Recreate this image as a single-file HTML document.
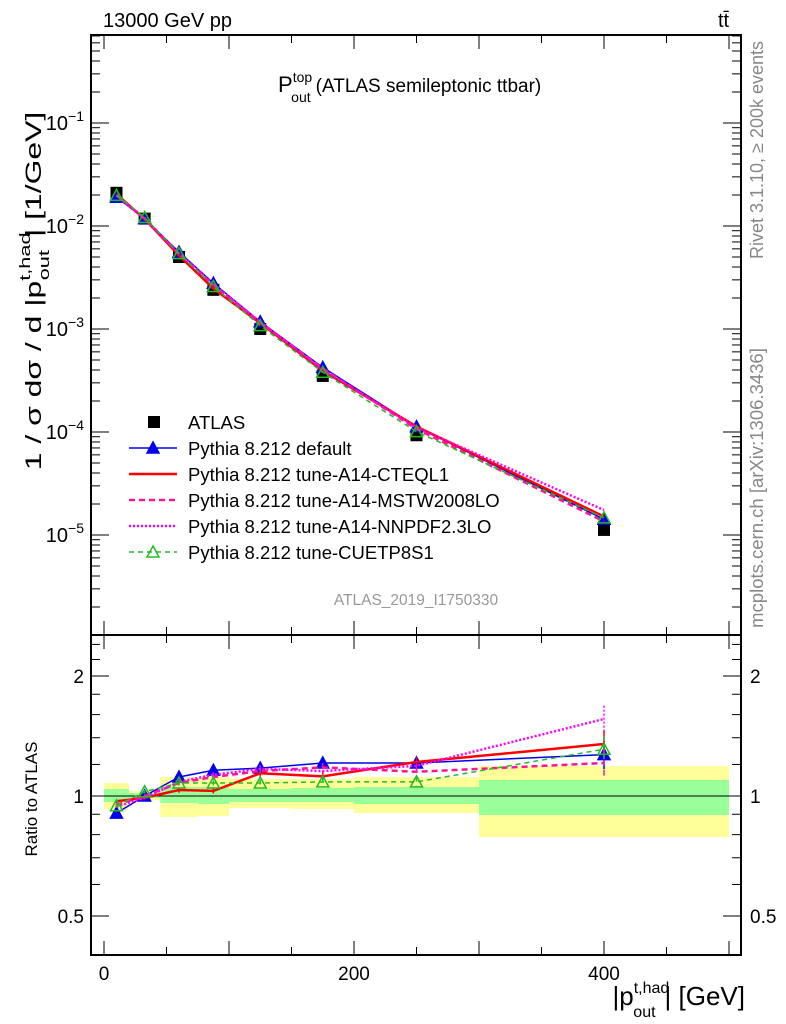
<!DOCTYPE html>
<html><head><meta charset="utf-8"><style>
html,body{margin:0;padding:0;background:#fff;}
svg{display:block;font-family:"Liberation Sans",Arial,sans-serif;}
</style></head><body>
<svg id="chart" width="786" height="1024" viewBox="0 0 786 1024" xmlns="http://www.w3.org/2000/svg">
<g id="bands"></g>
<g id="grid"></g>
<g id="series"></g>
<g id="legend"></g>
<text x="103" y="27" font-size="20">13000 GeV pp</text>
<text x="718" y="27" font-size="20">tt̄</text>
<text x="278" y="92" font-size="22">P<tspan font-size="14" dy="-10">top</tspan><tspan font-size="14" dx="-21" dy="20">out</tspan><tspan font-size="19" dx="5" dy="-10">(ATLAS semileptonic ttbar)</tspan></text>
<text x="416" y="605" font-size="15.5" fill="#999" text-anchor="middle">ATLAS_2019_I1750330</text>
<text transform="translate(763,150) rotate(-90)" font-size="18" fill="#888" text-anchor="middle">Rivet 3.1.10, ≥ 200k events</text>
<text transform="translate(763,488) rotate(-90)" font-size="18.5" fill="#888" text-anchor="middle">mcplots.cern.ch [arXiv:1306.3436]</text>
<text transform="translate(41,291) rotate(-90) scale(1.45,1)" font-size="22" text-anchor="middle">1 / σ dσ / d |p<tspan font-size="15" dy="-11">t,had</tspan><tspan font-size="15" dx="-33" dy="19">out</tspan><tspan dy="-8" dx="9">| [1/GeV]</tspan></text>
<text transform="translate(37,799) rotate(-90)" font-size="17" text-anchor="middle">Ratio to ATLAS</text>
<text x="745" y="1005" font-size="26" text-anchor="end">|p<tspan font-size="16" dy="-12">t,had</tspan><tspan font-size="16" dx="-36" dy="24">out</tspan><tspan dy="-12" dx="9">| [GeV]</tspan></text>
</svg>
<script>
const NS="http://www.w3.org/2000/svg";
const xs=[10,32.5,60,87.5,125,175,250,400];
const binEdges=[0,20,45,75,100,150,200,300,500];
const atlas=[0.0210,0.0118,0.0050,0.0024,0.00100,0.00035,0.000093,0.0000112];
const yellowHi=[1.078,1.029,1.116,1.116,1.103,1.103,1.116,1.189];
const yellowLo=[0.928,0.977,0.886,0.891,0.933,0.928,0.906,0.789];
const greenHi=[1.041,1.017,1.053,1.053,1.041,1.047,1.053,1.097];
const greenLo=[0.966,0.988,0.960,0.955,0.966,0.966,0.955,0.896];
const rDefault=[0.906,1.0,1.116,1.16,1.175,1.21,1.21,1.27];
const rCTEQ=[0.97,0.99,1.035,1.03,1.14,1.12,1.217,1.35];
const rMSTW=[0.95,1.0,1.078,1.116,1.155,1.18,1.15,1.21];
const rNNPDF=[0.94,0.99,1.085,1.13,1.17,1.155,1.19,1.56];
const rCUET=[0.945,1.025,1.078,1.078,1.078,1.085,1.085,1.31];
const rErr=[0.01,0.01,0.015,0.015,0.02,0.025,0.03,0.08];
const yTicks=[-1,-2,-3,-4,-5];
const xTicks=[0,200,400];
const rTicks=[0.5,1,2];

const L=91,R=741,T=35,M=635,B=955;
const X=v=>104+(v)*1.25;
const Y=v=>123-(Math.log10(v)+1)*103;
const RY=v=>796-Math.log10(v)*398.7;
function el(tag,attrs,parent,text){const e=document.createElementNS(NS,tag);for(const k in attrs)e.setAttribute(k,attrs[k]);if(text!==undefined)e.textContent=text;parent.appendChild(e);return e;}
const bands=document.getElementById('bands'),grid=document.getElementById('grid'),ser=document.getElementById('series'),leg=document.getElementById('legend');

for(let i=0;i<xs.length;i++){
  const x0=X(binEdges[i]),x1=X(binEdges[i+1]);
  const yb=el('rect',{x:x0,y:RY(yellowHi[i]),width:x1-x0,height:RY(yellowLo[i])-RY(yellowHi[i]),fill:'#ffff99'},bands);
  
  
  const gb=el('rect',{x:x0,y:RY(greenHi[i]),width:x1-x0,height:RY(greenLo[i])-RY(greenHi[i]),fill:'#99ff99'},bands);
  
  
}
const f1=el('rect',{x:L,y:T,width:R-L,height:M-T,fill:'none',stroke:'#000','stroke-width':2},grid);


const f2=el('rect',{x:L,y:M,width:R-L,height:B-M,fill:'none',stroke:'#000','stroke-width':2},grid);


el('line',{x1:L,x2:R,y1:RY(1),y2:RY(1),stroke:'#000','stroke-width':1},grid);
for(let v=0;v<=500;v+=50){const big=v%100===0;const len=big?14:8;
  for(const [yb,yt] of [[M,T],[B,M]]){el('line',{x1:X(v),x2:X(v),y1:yb,y2:yb-len,stroke:'#000'},grid);el('line',{x1:X(v),x2:X(v),y1:yt,y2:yt+len,stroke:'#000'},grid);}}
xTicks.forEach(v=>{const t=el('text',{x:X(v),y:980,'font-size':19,'text-anchor':'middle'},grid,String(v));});
for(let d=-6;d<=0;d++){for(let m=1;m<10;m++){const v=m*Math.pow(10,d);const y=Y(v);if(y<T||y>M)continue;const len=m===1?18:9;
  el('line',{x1:L,x2:L+len,y1:y,y2:y,stroke:'#000'},grid);el('line',{x1:R,x2:R-len,y1:y,y2:y,stroke:'#000'},grid);}}
yTicks.forEach(p=>{const t=el('text',{x:84,y:Y(Math.pow(10,p))+7,'font-size':20,'text-anchor':'end'},grid);
  t.innerHTML='10<tspan font-size="14" dy="-9">'+(p<0?'\u2212'+(-p):p)+'</tspan>';});
for(const v of [0.4,0.5,0.6,0.7,0.8,0.9,1,1.2,1.4,1.6,1.8,2,2.2,2.4]){const y=RY(v);if(y<M||y>B)continue;const len=rTicks.includes(v)?18:9;
  el('line',{x1:L,x2:L+len,y1:y,y2:y,stroke:'#000'},grid);el('line',{x1:R,x2:R-len,y1:y,y2:y,stroke:'#000'},grid);}
rTicks.forEach(v=>{for(const [x,a] of [[84,'end'],[750,'start']]){const t=el('text',{x:x,y:RY(v)+7,'font-size':19,'text-anchor':a},grid,String(v));}});

const series=[
 {name:'Pythia 8.212 default',r:rDefault,color:'#0000ee',w:1.5,dash:'',marker:'tri'},
 {name:'Pythia 8.212 tune-A14-CTEQL1',r:rCTEQ,color:'#ff0000',w:2.5,dash:'',marker:''},
 {name:'Pythia 8.212 tune-A14-MSTW2008LO',r:rMSTW,color:'#ff1493',w:2.5,dash:'6,4',marker:''},
 {name:'Pythia 8.212 tune-A14-NNPDF2.3LO',r:rNNPDF,color:'#ff00ff',w:2.5,dash:'2,2',marker:''},
 {name:'Pythia 8.212 tune-CUETP8S1',r:rCUET,color:'#22bb22',w:1.5,dash:'5,4',marker:'otri'}
];
function tri(g,x,y,c,open){return el('polygon',{points:`${x},${y-6} ${x-6},${y+5} ${x+6},${y+5}`,fill:open?'none':c,stroke:c,'stroke-width':1.5},g);}
const ag=el('g',{},ser);
xs.forEach((x,i)=>{const s=el('rect',{x:X(x)-6,y:Y(atlas[i])-6,width:12,height:12,fill:'#000'},ag);});
series.forEach((s,k)=>{
  const g=el('g',{},ser);
  const main=xs.map((x,i)=>X(x)+','+Y(atlas[i]*s.r[i])).join(' ');
  const l1=el('polyline',{points:main,fill:'none',stroke:s.color,'stroke-width':s.w,'stroke-dasharray':s.dash},g);
  
  const rat=xs.map((x,i)=>X(x)+','+RY(s.r[i])).join(' ');
  const l2=el('polyline',{points:rat,fill:'none',stroke:s.color,'stroke-width':s.w,'stroke-dasharray':s.dash},g);
  
  xs.forEach((x,i)=>{
    el('line',{x1:X(x),x2:X(x),y1:RY(s.r[i]*(1+rErr[i])),y2:RY(s.r[i]*(1-rErr[i])),stroke:s.color,'stroke-width':1.5,'stroke-dasharray':s.dash},g);
    if(s.marker){tri(g,X(x),Y(atlas[i]*s.r[i]),s.color,s.marker==='otri');tri(g,X(x),RY(s.r[i]),s.color,s.marker==='otri');}
  });
});
const ly0=422;
const e0=el('g',{},leg);
el('rect',{x:148,y:ly0-6,width:12,height:12,fill:'#000'},e0);
el('text',{x:188,y:ly0+7,'font-size':18.5},e0,'ATLAS');
series.forEach((s,k)=>{const y=ly0+26*(k+1);
  const e=el('g',{},leg);
  el('line',{x1:129,x2:177,y1:y,y2:y,stroke:s.color,'stroke-width':s.w,'stroke-dasharray':s.dash},e);
  if(s.marker)tri(e,153,y,s.color,s.marker==='otri');
  el('text',{x:188,y:y+7,'font-size':18.5},e,s.name);
});
</script>
</body></html>
